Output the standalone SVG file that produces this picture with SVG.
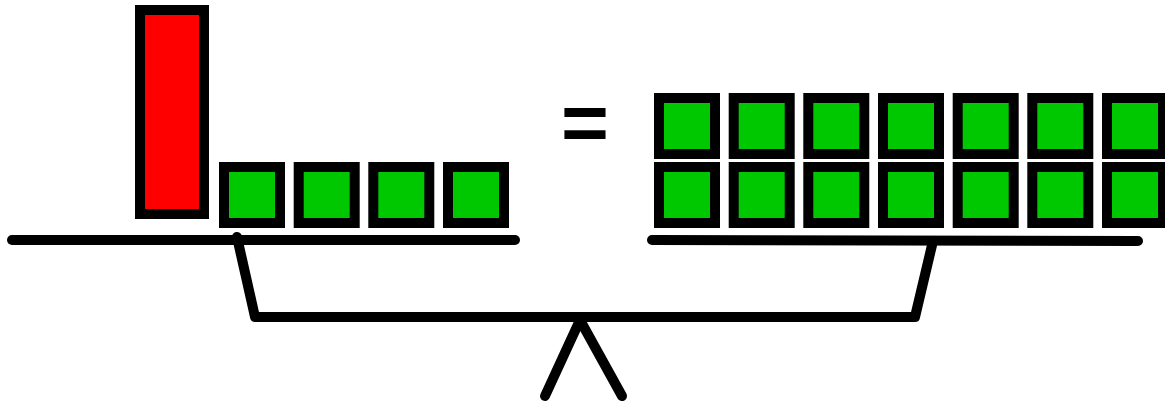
<svg xmlns="http://www.w3.org/2000/svg" width="1165" height="405" viewBox="0 0 1165 405">
<style>
.g{fill:#00c800;stroke:#000;stroke-width:10}
.r{fill:#ff0000;stroke:#000;stroke-width:10}
.ln{stroke:#000;stroke-width:10;stroke-linecap:round;stroke-linejoin:round;fill:none}
.eq{font-family:"Liberation Sans",Arial,sans-serif;font-weight:bold;font-size:82px;fill:#000}
</style>
<rect width="1165" height="405" fill="#fff"/>
<g id="connectors">
<line class="ln" x1="12" y1="240" x2="515" y2="240"/>
<line class="ln" x1="652" y1="240" x2="1138" y2="241"/>
<polyline class="ln" points="237,237 255,317 915,317 933,241"/>
<polyline class="ln" points="545,396 580,320 622,396"/>
</g>
<g id="red-bar"><rect class="r" x="140" y="10" width="64" height="204"/></g>
<g id="left-units">
<rect class="g" x="224" y="167" width="56" height="56"/>
<rect class="g" x="298.7" y="167" width="56" height="56"/>
<rect class="g" x="373.3" y="167" width="56" height="56"/>
<rect class="g" x="448" y="167" width="56" height="56"/>
</g>
<g id="equals"><text class="eq" x="585" y="151" text-anchor="middle">=</text></g>
<g id="right-units">
<rect class="g" x="659" y="98" width="56" height="56"/>
<rect class="g" x="733.7" y="98" width="56" height="56"/>
<rect class="g" x="808.3" y="98" width="56" height="56"/>
<rect class="g" x="883" y="98" width="56" height="56"/>
<rect class="g" x="957.7" y="98" width="56" height="56"/>
<rect class="g" x="1032.3" y="98" width="56" height="56"/>
<rect class="g" x="1107" y="98" width="56" height="56"/>
<rect class="g" x="659" y="167" width="56" height="56"/>
<rect class="g" x="733.7" y="167" width="56" height="56"/>
<rect class="g" x="808.3" y="167" width="56" height="56"/>
<rect class="g" x="883" y="167" width="56" height="56"/>
<rect class="g" x="957.7" y="167" width="56" height="56"/>
<rect class="g" x="1032.3" y="167" width="56" height="56"/>
<rect class="g" x="1107" y="167" width="56" height="56"/>
</g>
</svg>
